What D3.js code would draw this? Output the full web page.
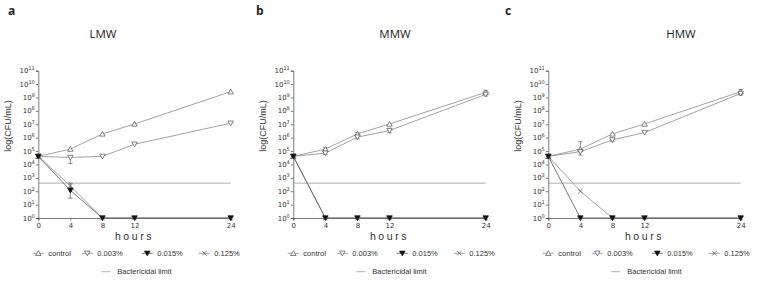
<!DOCTYPE html>
<html>
<head>
<meta charset="utf-8">
<script src="https://cdn.jsdelivr.net/npm/d3@7"></script>
<style>
  body { margin: 0; background: #fff; }
  text { font-family: "Liberation Sans", Arial, sans-serif; fill: #222; }
</style>
</head>
<body>
<div id="chart"></div>
<script>
// time points (hours)
const hours = [0, 4, 8, 12, 24];
const xTickLabels = ["0", "4", "8", "12", "24"];
const seriesNames = ["control", "0.003%", "0.015%", "0.125%"];
const panelLetters = ["a", "b", "c"];
const panelTitles = ["LMW", "MMW", "HMW"];
const bactericidalLimit = 400;

// CFU/mL
const lmwControl = [4e4, 1.4e5, 1.9e6, 1.05e7, 2.7e9];
const lmw003 = [4e4, 3.3e4, 4e4, 3.2e5, 1.2e7];
const lmw015 = [4e4, 1.15e2, 1, 1, 1];
const lmw125 = [4e4, 2.5e2, 1, 1, 1];

const mmwControl = [4e4, 1.4e5, 1.9e6, 1.05e7, 2.4e9];
const mmw003 = [4e4, 7e4, 1.1e6, 3.4e6, 1.7e9];
const mmw015 = [4e4, 1, 1, 1, 1];
const mmw125 = [4e4, 1, 1, 1, 1];

const hmwControl = [4e4, 1.4e5, 1.9e6, 1.05e7, 2.7e9];
const hmw003 = [4e4, 9e4, 6.8e5, 2.4e6, 2e9];
const hmw015 = [4e4, 1, 1, 1, 1];
const hmw125 = [4e4, 1e2, 1, 1, 1];

// error bars: [panel, series, time index, low, high]
const errorBars = [
    [0, 1, 1, 1.2e4, 4.5e4],
    [0, 2, 1, 3e1, 1.6e2],
    [0, 3, 1, 1.8e2, 4e2],
    [1, 0, 1, 1.1e5, 1.8e5],
    [1, 1, 1, 5.5e4, 9e4],
    [1, 0, 2, 1.4e6, 2.4e6],
    [1, 1, 2, 8e5, 1.5e6],
    [1, 1, 3, 2.3e6, 5e6],
    [1, 0, 4, 1.8e9, 3.2e9],
    [1, 1, 4, 1.3e9, 2.2e9],
    [2, 0, 1, 9e4, 5e5],
    [2, 1, 1, 5e4, 1.2e5],
    [2, 0, 4, 1.9e9, 4e9],
    [2, 1, 4, 1.5e9, 2.6e9],
    [2, 1, 2, 5e5, 8.5e5]
];

const panels = [
    [lmwControl, lmw003, lmw015, lmw125],
    [mmwControl, mmw003, mmw015, mmw125],
    [hmwControl, hmw003, hmw015, hmw125]
];

const panelLeft = [38.3, 293.3, 548.3];
const titleX = [103, 395, 681];
const letterX = [8, 256, 505];
const plotWidth = 192.4;
const plotTop = 70.7, plotBottom = 218;

const lineColor = "#8c8c8c";
const markColor = "#5a5a5a";

const svg = d3.select("#chart")
    .append("svg")
    .attr("width", 757)
    .attr("height", 281);

const sym = d3.symbol().type(d3.symbolTriangle).size(13);
const cross = d3.symbol().type(d3.symbolX).size(14);

function drawMarker(g, s, cx, cy) {
    if (s === 0) {
        g.append("path").attr("d", sym())
            .attr("transform", `translate(${cx},${cy + 0.6})`)
            .attr("fill", "#fff").attr("stroke", markColor).attr("stroke-width", 0.75);
    } else if (s === 1) {
        g.append("path").attr("d", sym())
            .attr("transform", `translate(${cx},${cy - 0.6}) rotate(180)`)
            .attr("fill", "#fff").attr("stroke", markColor).attr("stroke-width", 0.75);
    } else if (s === 2) {
        g.append("path").attr("d", sym())
            .attr("transform", `translate(${cx},${cy - 0.6}) rotate(180)`)
            .attr("fill", "#111").attr("stroke", "#111").attr("stroke-width", 0.75);
    } else {
        g.append("path").attr("d", cross())
            .attr("transform", `translate(${cx},${cy})`)
            .attr("fill", "none").attr("stroke", markColor).attr("stroke-width", 0.75);
    }
}

panels.forEach((series, p) => {
    const left = panelLeft[p];
    const g = svg.append("g");

    const x = d3.scaleLinear().domain([0, 24]).range([left, left + plotWidth]);
    const y = d3.scaleLog().domain([1, 1e11]).range([plotBottom, plotTop]);

    // panel letter and title
    g.append("text")
        .attr("x", letterX[p]).attr("y", 15)
        .style("font-family", "'Open Sans', sans-serif")
        .style("font-weight", "bold")
        .style("font-size", "12px")
        .text(panelLetters[p]);

    g.append("text")
        .attr("x", titleX[p]).attr("y", 38)
        .attr("text-anchor", "middle")
        .style("font-family", "'Open Sans', sans-serif")
        .style("font-size", "11.5px")
        .text(panelTitles[p]);

    // y axis
    const yAxis = g.append("g")
        .attr("transform", `translate(${left},0)`)
        .call(d3.axisLeft(y)
            .tickValues(d3.range(0, 12).map(e => Math.pow(10, e)))
            .tickSize(2.5)
            .tickPadding(2)
            .tickFormat(""));
    yAxis.select(".domain").attr("stroke", "#444").attr("stroke-width", 0.7);
    yAxis.selectAll(".tick line").attr("stroke", "#444").attr("stroke-width", 0.7);

    d3.range(0, 12).forEach(e => {
        const t = g.append("text")
            .attr("x", left - 3.5)
            .attr("y", y(Math.pow(10, e)) + 2.5)
            .attr("text-anchor", "end")
            .style("font-family", "'DejaVu Sans', sans-serif")
            .style("font-size", "7px")
            .style("fill", "#333");
        t.append("tspan").text("10");
        t.append("tspan")
            .attr("dy", -3)
            .style("font-size", "5px")
            .text(e);
    });

    // x axis
    const xAxis = g.append("g")
        .attr("transform", `translate(0,${plotBottom})`)
        .call(d3.axisBottom(x)
            .tickValues(hours)
            .tickSize(2.5)
            .tickPadding(2.5)
            .tickFormat((d, i) => xTickLabels[i]));
    xAxis.select(".domain").attr("stroke", "#444").attr("stroke-width", 0.7);
    xAxis.selectAll(".tick line").attr("stroke", "#444").attr("stroke-width", 0.7);
    xAxis.selectAll(".tick text")
        .style("font-family", "'DejaVu Sans', sans-serif")
        .style("font-size", "7px")
        .style("fill", "#333");

    // axis titles
    g.append("text")
        .attr("transform", `translate(${left + plotWidth / 2},240)`)
        .attr("text-anchor", "middle")
        .style("font-size", "10.5px")
        .style("letter-spacing", "2.6px")
        .style("fill", "#333")
        .text("hours");

    g.append("text")
        .attr("transform", `translate(${left - 27.5},126) rotate(-90)`)
        .attr("text-anchor", "middle")
        .style("font-size", "9px")
        .style("fill", "#333")
        .text("log(CFU/mL)");

    // bactericidal limit
    g.append("line")
        .attr("x1", x(0)).attr("x2", x(24))
        .attr("y1", y(bactericidalLimit)).attr("y2", y(bactericidalLimit))
        .attr("stroke", "#9a9a9a").attr("stroke-width", 0.8);

    // lines
    const line = d3.line()
        .x((d, i) => x(hours[i]))
        .y(d => y(d));

    [0, 1, 3, 2].forEach(s => {
        g.append("path")
            .datum(series[s])
            .attr("d", line)
            .attr("fill", "none")
            .attr("stroke", s === 2 ? "#555" : lineColor)
            .attr("stroke-width", 0.8);
    });

    // error bars
    errorBars.filter(e => e[0] === p).forEach(([, s, ti, lo, hi]) => {
        const cx = x(hours[ti]);
        g.append("line")
            .attr("x1", cx).attr("x2", cx)
            .attr("y1", y(lo)).attr("y2", y(hi))
            .attr("stroke", markColor).attr("stroke-width", 0.7);
        [lo, hi].forEach(v => {
            g.append("line")
                .attr("x1", cx - 2.2).attr("x2", cx + 2.2)
                .attr("y1", y(v)).attr("y2", y(v))
                .attr("stroke", markColor).attr("stroke-width", 0.7);
        });
    });

    // markers
    [0, 1, 3, 2].forEach(s => {
        series[s].forEach((v, i) => drawMarker(g, s, x(hours[i]), y(v)));
    });

    // legend
    const legendMarkX = [0, 49, 109, 166];
    const legendY = 253.3;
    seriesNames.forEach((name, s) => {
        const cx = left + legendMarkX[s];
        g.append("line")
            .attr("x1", cx - 5.5).attr("x2", cx + 5.5)
            .attr("y1", legendY).attr("y2", legendY)
            .attr("stroke", s === 2 ? "#555" : lineColor).attr("stroke-width", 0.8);
        drawMarker(g, s, cx, legendY);
        g.append("text")
            .attr("x", cx + 10).attr("y", legendY + 2.6)
            .style("font-size", "7.5px")
            .style("fill", "#333")
            .text(name);
    });

    g.append("line")
        .attr("x1", left + 63).attr("x2", left + 72)
        .attr("y1", 271.7).attr("y2", 271.7)
        .attr("stroke", "#9a9a9a").attr("stroke-width", 0.8);
    g.append("text")
        .attr("x", left + 79).attr("y", 274.3)
        .style("font-size", "7.5px")
        .style("fill", "#333")
        .text("Bactericidal limit");
});
</script>
</body>
</html>
